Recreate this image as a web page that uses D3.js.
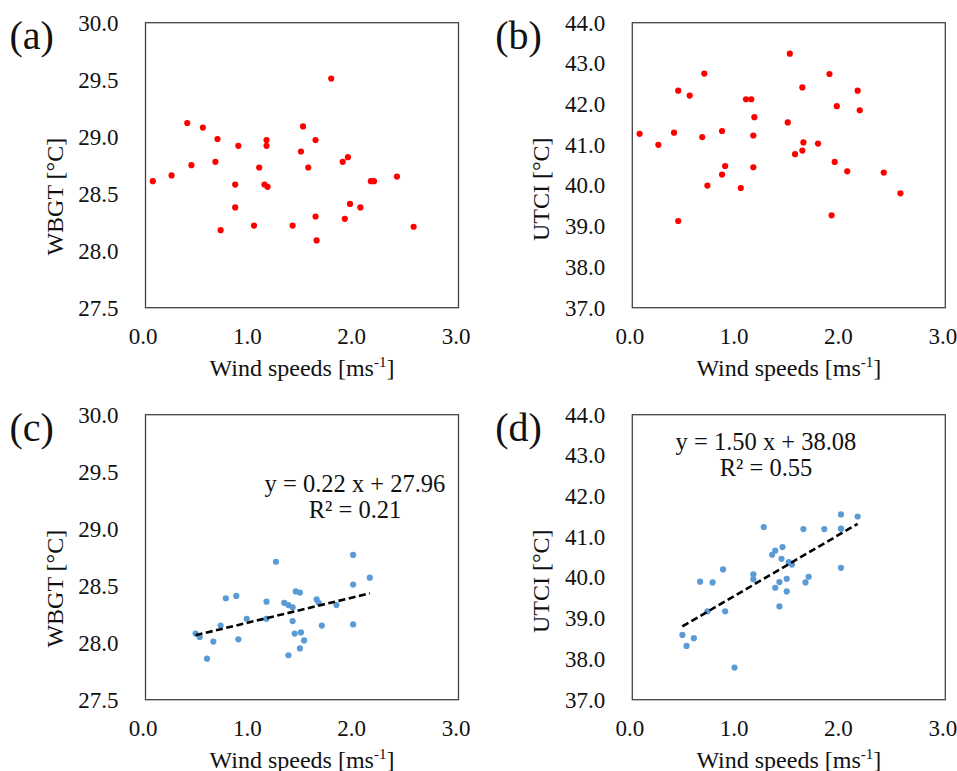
<!DOCTYPE html>
<html>
<head>
<meta charset="utf-8">
<script src="https://cdn.jsdelivr.net/npm/d3@7"></script>
<style>
  body { margin: 0; background: #fff; }
  text { font-family: "Liberation Serif", "Times New Roman", serif; fill: #111; }
</style>
</head>
<body>
<div id="chart"></div>
<script>
// wind speed vs thermal indices, four panels
const windTicks = [0.0, 1.0, 2.0, 3.0];
const wbgtTicks = [27.5, 28.0, 28.5, 29.0, 29.5, 30.0];
const utciTicks = [37, 38, 39, 40, 41, 42, 43, 44];

// (a)
const windA = [0.07, 0.25, 0.40, 0.44, 0.55, 0.69, 0.67, 0.72, 0.86, 0.86, 0.89, 1.04, 1.09, 1.14, 1.17, 1.16, 1.16,
  1.41, 1.49, 1.51, 1.56, 1.63, 1.63, 1.64, 1.78, 1.89, 1.94, 1.91, 1.96, 2.06, 2.16, 2.19, 2.41, 2.57];
const wbgtA = [28.61, 28.66, 29.12, 28.75, 29.08, 28.98, 28.78, 28.18, 28.58, 28.38, 28.92, 28.22, 28.73, 28.58, 28.56, 28.97, 28.92,
  28.22, 28.87, 29.09, 28.73, 28.97, 28.30, 28.09, 29.51, 28.78, 28.82, 28.28, 28.41, 28.38, 28.61, 28.61, 28.65, 28.21];

// (b)
const windB = [0.07, 0.25, 0.40, 0.44, 0.44, 0.55, 0.67, 0.69, 0.72, 0.86, 0.86, 0.89, 1.04, 1.09, 1.14, 1.16, 1.17,
  1.16, 1.49, 1.51, 1.56, 1.63, 1.63, 1.64, 1.78, 1.89, 1.91, 1.94, 1.96, 2.06, 2.16, 2.18, 2.41, 2.57];
const utciB = [41.27, 41.00, 41.30, 42.33, 39.13, 42.21, 41.19, 42.75, 40.00, 41.34, 40.27, 40.48, 39.94, 42.12, 42.12, 41.23, 41.68,
  40.45, 41.55, 43.24, 40.77, 42.41, 40.86, 41.06, 41.03, 42.74, 39.27, 40.58, 41.95, 40.35, 42.33, 41.85, 40.32, 39.81];

// (c)
const windC = [0.48, 0.52, 0.59, 0.65, 0.72, 0.77, 0.87, 0.89, 0.97, 1.16, 1.16, 1.25, 1.33, 1.37, 1.41, 1.41,
  1.44, 1.48, 1.43, 1.49, 1.52, 1.48, 1.37, 1.64, 1.66, 1.69, 1.83, 1.99, 1.99, 1.99, 2.15];
const wbgtC = [28.08, 28.05, 27.86, 28.01, 28.15, 28.39, 28.41, 28.03, 28.21, 28.36, 28.21, 28.71, 28.35, 28.33, 28.31, 28.19,
  28.45, 28.44, 28.08, 28.09, 28.02, 27.95, 27.89, 28.38, 28.35, 28.15, 28.33, 28.77, 28.51, 28.16, 28.57];
const fitC = [0.22, 27.96];   // slope, intercept
const eqC = ["y = 0.22 x + 27.96", "R² = 0.21"];

// (d)
const windD = [0.48, 0.52, 0.59, 0.65, 0.72, 0.77, 0.87, 0.89, 0.98, 1.16, 1.16, 1.26, 1.34, 1.37, 1.37, 1.41,
  1.41, 1.44, 1.43, 1.48, 1.48, 1.50, 1.53, 1.64, 1.66, 1.69, 1.84, 2.00, 2.00, 2.00, 2.16];
const utciD = [38.59, 38.32, 38.51, 39.90, 39.17, 39.88, 40.20, 39.17, 37.79, 40.08, 39.96, 41.24, 40.56, 40.66, 39.75, 39.89,
  39.29, 40.75, 40.46, 39.97, 39.66, 40.38, 40.32, 41.19, 39.88, 40.02, 41.19, 41.55, 41.20, 40.24, 41.50];
const fitD = [1.50, 38.08];
const eqD = ["y = 1.50 x + 38.08", "R² = 0.55"];

const W = 957, H = 771;
const boxW = 313, boxH = 285;
const FONT = "'Liberation Serif','Times New Roman',serif";

const svg = d3.select("#chart").append("svg")
  .attr("width", W)
  .attr("height", H);

svg.append("rect").attr("width", W).attr("height", H).attr("fill", "#fff");

function drawPanel(cfg) {
  const g = svg.append("g").attr("transform", `translate(${cfg.left},${cfg.top})`);

  const x = d3.scaleLinear().domain([0, 3]).range([0, boxW]);
  const y = d3.scaleLinear().domain(cfg.yDomain).range([boxH, 0]);

  const xAxis = d3.axisBottom(x).tickValues(windTicks).tickSize(0).tickPadding(20).tickFormat(d3.format(".1f"));
  const yAxis = d3.axisLeft(y).tickValues(cfg.yTicks).tickSize(0).tickPadding(27).tickFormat(d3.format(".1f"));

  g.append("g")
    .attr("transform", `translate(0,${boxH})`)
    .call(xAxis)
    .call(a => a.select(".domain").remove())
    .selectAll("text")
      .attr("dx", -3)
      .style("font-size", "23px")
      .style("font-family", FONT)
      .attr("fill", "#111");

  g.append("g")
    .call(yAxis)
    .call(a => a.select(".domain").remove())
    .selectAll("text")
      .style("font-size", "23px")
      .style("font-family", FONT)
      .attr("fill", "#111");

  // plot border
  g.append("rect")
    .attr("width", boxW)
    .attr("height", boxH)
    .attr("fill", "none")
    .attr("stroke", "#444")
    .attr("stroke-width", 1.3);

  const pts = cfg.xs.map((v, i) => ({ x: v, y: cfg.ys[i] }));

  g.selectAll("circle")
    .data(pts)
    .enter()
    .append("circle")
      .attr("cx", d => x(d.x))
      .attr("cy", d => y(d.y))
      .attr("r", 3.1)
      .attr("fill", cfg.color);

  if (cfg.fit) {
    const ext = d3.extent(cfg.xs);
    const line = d3.line()
      .x(d => x(d))
      .y(d => y(cfg.fit[0] * d + cfg.fit[1]));
    g.append("path")
      .datum(ext)
      .attr("d", line)
      .attr("fill", "none")
      .attr("stroke", "#000")
      .attr("stroke-width", 2.6)
      .attr("stroke-dasharray", "7,3.5");

    const eq = g.append("text")
      .attr("text-anchor", "middle")
      .style("font-size", "24.5px");
    eq.append("tspan").attr("x", cfg.eqX).attr("y", cfg.eqY).text(cfg.eq[0]);
    eq.append("tspan").attr("x", cfg.eqX).attr("y", cfg.eqY + 26.5).text(cfg.eq[1]);
  }

  // panel letter
  svg.append("text")
    .attr("x", cfg.left - cfg.letterDx)
    .attr("y", cfg.top + 26)
    .style("font-size", "40px")
    .text(cfg.letter);

  // x title
  const xt = g.append("text")
    .attr("x", boxW / 2)
    .attr("y", boxH + 68)
    .attr("text-anchor", "middle")
    .style("font-size", "24px");
  xt.append("tspan").text("Wind speeds [ms");
  xt.append("tspan").attr("dy", -9).style("font-size", "15px").text("-1");
  xt.append("tspan").attr("dy", 9).text("]");

  // y title
  g.append("text")
    .attr("transform", `translate(-83,${cfg.titleY}) rotate(-90)`)
    .attr("text-anchor", "middle")
    .style("font-size", "24px")
    .text(cfg.yTitle);
}

drawPanel({ left: 145.5, top: 22.7, letter: "(a)", letterDx: 136, xs: windA, ys: wbgtA,
  yDomain: [27.5, 30], yTicks: wbgtTicks, color: "#ff0000", yTitle: "WBGT [°C]", titleY: 174 });
drawPanel({ left: 632.3, top: 22.7, letter: "(b)", letterDx: 137, xs: windB, ys: utciB,
  yDomain: [37, 44], yTicks: utciTicks, color: "#ff0000", yTitle: "UTCI [°C]", titleY: 166.5 });
drawPanel({ left: 145.5, top: 414.7, letter: "(c)", letterDx: 136, xs: windC, ys: wbgtC,
  yDomain: [27.5, 30], yTicks: wbgtTicks, color: "#5b9bd5", yTitle: "WBGT [°C]", titleY: 174,
  fit: fitC, eq: eqC, eqX: 209.5, eqY: 77.3 });
drawPanel({ left: 632.3, top: 414.7, letter: "(d)", letterDx: 137, xs: windD, ys: utciD,
  yDomain: [37, 44], yTicks: utciTicks, color: "#5b9bd5", yTitle: "UTCI [°C]", titleY: 166.5,
  fit: fitD, eq: eqD, eqX: 133.7, eqY: 35.3 });
</script>
</body>
</html>
